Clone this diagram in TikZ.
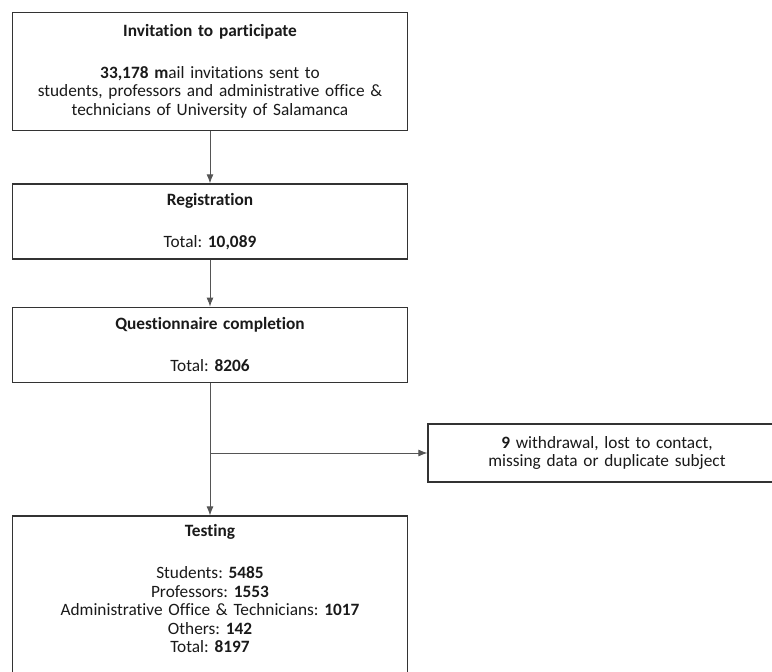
\documentclass[tikz,border=0pt]{standalone}
\usepackage{fontspec}
\setmainfont{Carlito}[Ligatures={NoCommon}]
\usetikzlibrary{positioning,arrows.meta}
\frenchspacing

\definecolor{boxline}{HTML}{333333}
\definecolor{connline}{HTML}{555555}
\definecolor{txtcol}{HTML}{1A1A1A}

\tikzstyle{stagebox} = [rectangle, draw=boxline, line width=1.3pt, text=txtcol, text width=381pt, minimum width=395pt, align=center, font=\fontsize{17.3}{18.5}\selectfont, inner xsep=7pt]
\tikzstyle{sidebox} = [rectangle, draw=boxline, line width=1.3pt, text=txtcol, text width=344pt, minimum width=358pt, minimum height=58pt, align=center, font=\fontsize{17.3}{18.5}\selectfont, inner xsep=7pt]
\tikzstyle{arrow} = [draw=connline, line width=0.9pt, -{Latex[length=9pt,width=7pt]}]

\begin{document}
\begin{tikzpicture}[x=1pt, y=-1pt, node distance=52pt]

	\clip (0,0) rectangle (772,672);
	\fill[white] (0,0) rectangle (772,672);

	\node (invite) [stagebox, minimum height=118pt, anchor=north] at (210,12) {\textbf{Invitation to participate}\\[23.5pt] \textbf{33,178 m}ail invitations sent to\\ students, professors and administrative office \&\\ technicians of University of Salamanca\rule[-4pt]{0pt}{0pt}};
	\node (regist) [stagebox, minimum height=75pt, below=52pt of invite] {\textbf{Registration}\\[23.5pt] Total: \textbf{10,089}};
	\node (quest) [stagebox, minimum height=75pt, below=47pt of regist] {\textbf{Questionnaire completion}\\[23.5pt] Total: \textbf{8206}};
	\node (testing) [stagebox, inner ysep=8.5pt, below=132.5pt of quest] {\textbf{Testing}\\[23.5pt] Students: \textbf{5485}\\ Professors: \textbf{1553}\\ Administrative Office \& Technicians: \textbf{1017}\\ Others: \textbf{142}\\ Total: \textbf{8197}\rule[-30pt]{0pt}{0pt}};

	\node (excl) [sidebox] at (607,453) {\textbf{9} withdrawal, lost to contact,\\ missing data or duplicate subject};
	\coordinate (branch) at (quest.south |- excl.west);

	\draw [arrow] (invite) -- (regist);
	\draw [arrow] (regist) -- (quest);
	\draw [arrow] (quest) -- (testing);
	\draw [arrow] (branch) -- (excl);

\end{tikzpicture}
\end{document}
